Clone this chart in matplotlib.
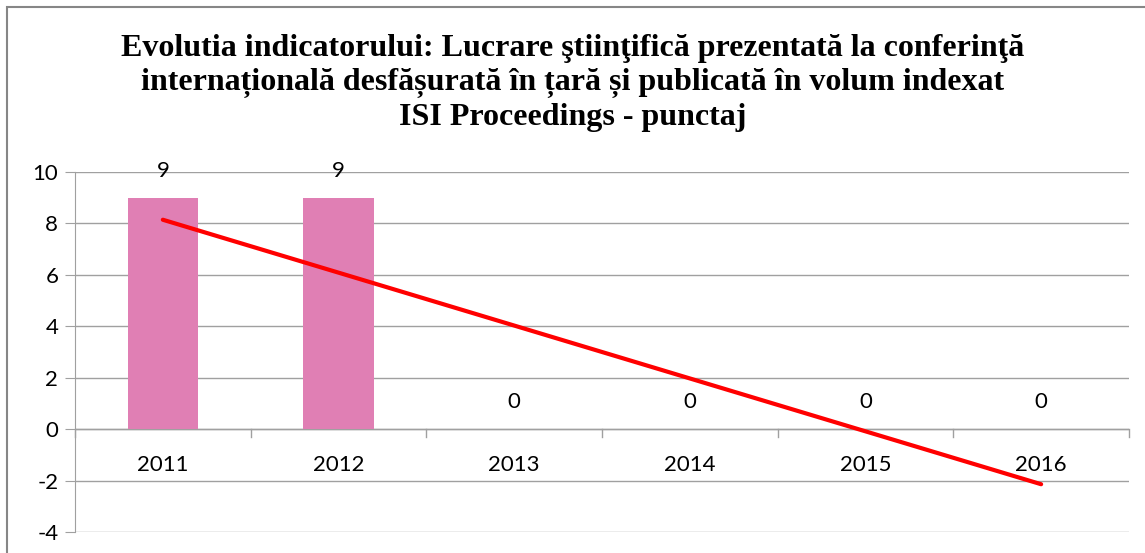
import numpy as np
import matplotlib.pyplot as plt

plt.rcParams['axes.unicode_minus'] = False

years = ['2011', '2012', '2013', '2014', '2015', '2016']
punctaj = [9, 9, 0, 0, 0, 0]
title = ("Evolutia indicatorului: Lucrare ştiinţifică prezentată la conferinţă\n"
         "internațională desfășurată în țară și publicată în volum indexat\n"
         "ISI Proceedings - punctaj")

fig = plt.figure(figsize=(11.45, 5.53), dpi=100)
ax = fig.add_axes([0.0655, 0.038, 0.9205, 0.651])

x = np.arange(len(years))
ax.bar(x, punctaj, width=0.4, color='#E07FB4', zorder=3)

# linear trendline (Excel style)
k, b = np.polyfit(x, punctaj, 1)
ax.plot(x, k * x + b, color='#FF0000', lw=3, zorder=4, solid_capstyle='round')

for xi, v in zip(x, punctaj):
    ax.annotate(str(v), (xi, v), xytext=(0, 12), textcoords='offset points',
                ha='center', va='bottom', fontsize=16, family='Lato')

ax.set_xlim(-0.5, len(years) - 0.5)
ax.set_ylim(-4, 10)
ax.set_yticks(range(-4, 11, 2))
ax.grid(axis='y', color='#A0A0A0', lw=1, zorder=0)
ax.tick_params(axis='y', length=7, color='#A0A0A0', labelsize=16, pad=5)
for lab in ax.get_yticklabels():
    lab.set_family('Lato')

for s in ['top', 'right', 'bottom']:
    ax.spines[s].set_visible(False)
ax.spines['left'].set_color('#A0A0A0')

# category axis drawn at zero
ax.axhline(0, color='#A0A0A0', lw=1, zorder=2)
ax.set_xticks([])
for xb in np.arange(-0.5, len(years), 1.0):
    ax.plot([xb, xb], [0, -0.3], color='#A0A0A0', lw=1, zorder=2, clip_on=False)
for xi, yr in zip(x, years):
    ax.text(xi, -1.4, yr, ha='center', va='center', fontsize=16, family='Lato')

fig.text(0.5, 0.85, title, ha='center', va='center', fontsize=23,
         fontweight='bold', family='Liberation Serif', linespacing=1.22)

border = plt.Rectangle((0.006, -0.05), 1.1, 1.037, transform=fig.transFigure,
                       fill=False, edgecolor='#868686', lw=1.5)
fig.add_artist(border)

fig.savefig('out.png', dpi=100)
